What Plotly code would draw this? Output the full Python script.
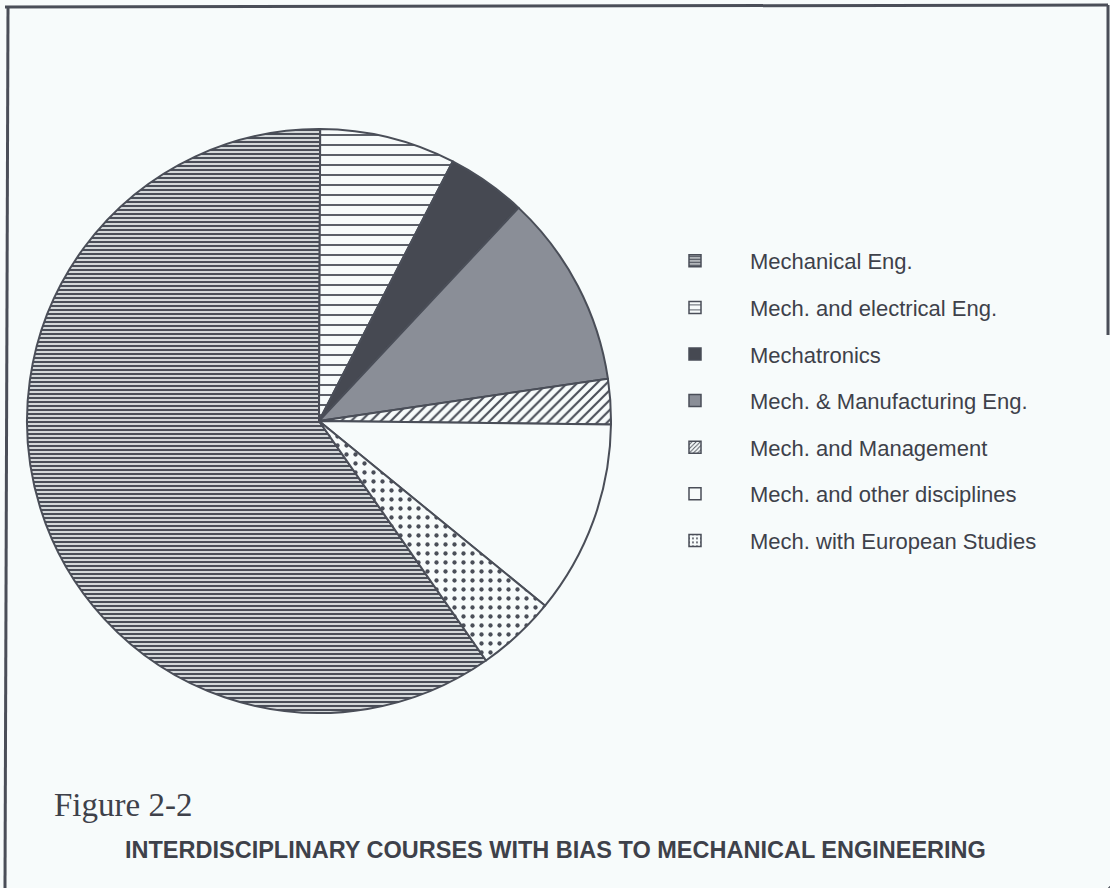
import plotly.graph_objects as go

# ---- data ----
labels = [
    "Mechanical Eng.",
    "Mech. and electrical Eng.",
    "Mechatronics",
    "Mech. & Manufacturing Eng.",
    "Mech. and Management",
    "Mech. and other disciplines",
    "Mech. with European Studies",
]
shares = [59.7, 7.5, 4.4, 10.7, 2.5, 10.7, 4.4]

figure_label = "Figure 2-2"
title_text = "INTERDISCIPLINARY COURSES WITH BIAS TO MECHANICAL ENGINEERING"

# ---- styles ----
W, H = 1110, 888
bg = "#f7fbfb"
ink = "#4a4e58"
txt = "#3e414a"
base_colors = ["#b3b7bf", bg, "#464952", "#8a8e97", bg, bg, bg]
pat_shapes = ["-", "-", "", "", "/", "", "."]
pat_sizes = [4, 10, 8, 8, 7, 8, 9]
pat_solid = [0.6, 0.18, 0.3, 0.3, 0.3, 0.3, 0.18]

fig = go.Figure()
# the pie itself
fig.add_trace(go.Pie(
    labels=labels,
    values=shares,
    sort=False,
    direction="clockwise",
    rotation=145.1,
    textinfo="none",
    hoverinfo="label+percent",
    showlegend=False,
    marker=dict(
        colors=base_colors,
        line=dict(color=ink, width=2),
        pattern=dict(shape=pat_shapes, size=pat_sizes, solidity=pat_solid,
                     fgcolor=ink, fillmode="replace"),
    ),
    domain=dict(x=[27 / W, 611 / W], y=[1 - 713 / H, 1 - 129 / H]),
))

# legend entries (one group per category so the legend rows can be spaced like the original)
for i, lab in enumerate(labels):
    fig.add_trace(go.Pie(
        labels=[lab], values=[shares[i]], sort=False, textinfo="none",
        hoverinfo="skip", showlegend=True, legendgroup=f"g{i}",
        marker=dict(colors=[base_colors[i]], line=dict(color=ink, width=1.5),
                    pattern=dict(shape=[pat_shapes[i]], size=[max(3, pat_sizes[i] // 2)],
                                 solidity=[pat_solid[i]], fgcolor=ink, fillmode="replace")),
        domain=dict(x=[0.9995, 1.0], y=[0.0, 0.0005]),
    ))

fig.update_layout(
    width=W, height=H,
    margin=dict(l=0, r=0, t=0, b=0),
    paper_bgcolor=bg, plot_bgcolor=bg,
    showlegend=True,
    legend=dict(x=640 / W, y=1 - 240 / H, xanchor="left", yanchor="top",
                font=dict(family="Liberation Sans, Arial, sans-serif", size=22, color=txt),
                bgcolor="rgba(0,0,0,0)", itemwidth=100, traceorder="grouped",
                tracegroupgap=15),
    font=dict(family="Liberation Sans, Arial, sans-serif", color=txt),
)

# page border (scanned frame)
fig.add_shape(type="line", xref="paper", yref="paper", x0=5 / W, x1=8 / W, y0=0, y1=1 - 7 / H,
              line=dict(color=ink, width=3))
fig.add_shape(type="line", xref="paper", yref="paper", x0=5 / W, x1=1108 / W, y0=1 - 7 / H, y1=1 - 5 / H,
              line=dict(color=ink, width=3))
fig.add_shape(type="line", xref="paper", yref="paper", x0=1108 / W, x1=1108 / W, y0=1 - 5 / H, y1=1 - 335 / H,
              line=dict(color=ink, width=3))

fig.add_annotation(text=figure_label, xref="paper", yref="paper", x=52 / W, y=1 - 805 / H,
                   xanchor="left", yanchor="middle", showarrow=False,
                   font=dict(family="Liberation Serif, Times New Roman, serif", size=33, color=txt))
fig.add_annotation(text="<b>" + title_text + "</b>", xref="paper", yref="paper", x=555 / W, y=1 - 850 / H,
                   xanchor="center", yanchor="middle", showarrow=False,
                   font=dict(family="Liberation Sans, Arial, sans-serif", size=23.5, color=txt))

fig.write_html("out.html",
               config={"displayModeBar": False},
               post_script="document.body.style.margin='0';document.body.style.padding='0';"
                           "document.documentElement.style.overflow='hidden';")
